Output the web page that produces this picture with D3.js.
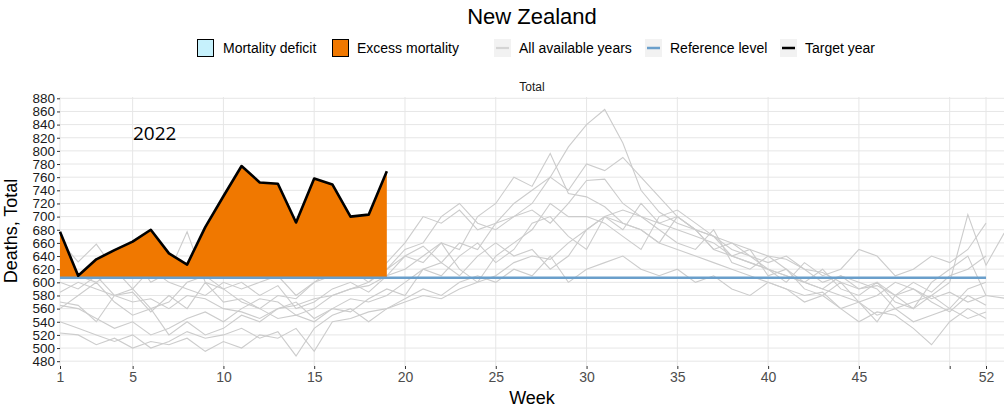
<!DOCTYPE html>
<html><head><meta charset="utf-8">
<script src="https://cdn.jsdelivr.net/npm/d3@7"></script>
<style>body{margin:0;background:#fff}svg{display:block;font-family:"Liberation Sans",Arial,sans-serif}</style>
</head><body><svg id="c" width="1004" height="413"></svg>
<script>
const title = "New Zealand";
const targetYear = "2022";
const referenceLevel = 607;
const targetValues = [677,610,635,649,662,680,644,627,684,731,777,752,750,691,758,749,700,703,769];
const yTicks = [480,500,520,540,560,580,600,620,640,660,680,700,720,740,760,780,800,820,840,860,880];
const xTicks = [1,5,10,15,20,25,30,35,40,45,50,52];
const xTickLabels = ["1","5","10","15","20","25","30","35","40","45","","52"];
const year1 = [585,600,590,580,570,575,560,580,575,560,555,545,560,565,575,580,590,595,610,640,655,630,660,650,690,700,720,760,806,840,863,812,740,707,690,680,670,660,650,640,635,620,615,600,590,600,580,590,575,585,570,580];
const year2 = [565,560,545,530,540,520,530,545,555,540,560,575,570,550,560,580,590,600,620,640,630,660,650,700,720,760,746,796,735,730,715,690,680,660,700,680,650,640,630,620,610,600,620,590,580,600,570,560,580,560,590,600];
const year3 = [663,631,658,620,640,600,615,677,600,590,570,560,580,575,600,620,610,630,620,650,660,700,720,690,680,700,710,690,720,755,757,720,700,690,680,670,660,640,630,620,610,600,590,610,590,595,580,600,585,610,620,640];
const year4 = [523,520,505,515,500,510,505,515,495,510,500,520,515,530,495,540,545,555,560,570,580,575,590,600,610,630,640,635,660,680,700,690,680,660,650,640,630,620,610,600,590,580,585,560,570,550,560,540,550,560,545,555];
const year5 = [560,580,600,570,550,560,520,540,520,530,550,540,560,570,545,560,575,570,580,600,620,610,640,660,630,650,690,700,670,650,700,680,720,690,700,680,650,660,640,630,640,620,600,610,600,590,560,570,580,600,703,626,675];
const year6 = [600,590,610,580,590,560,570,600,610,590,600,580,595,560,570,590,600,585,610,620,640,660,620,600,640,660,680,720,700,700,690,670,650,700,710,690,670,640,650,610,620,600,590,580,570,540,580,560,600,620,640,580,576];
const year7 = [540,530,520,510,520,500,510,525,515,520,530,515,525,488,530,550,560,540,560,575,590,580,600,610,600,620,610,640,600,620,630,640,620,610,620,600,610,590,580,600,590,570,580,560,540,555,550,530,505,540,560,545];
const year8 = [570,565,540,580,585,555,580,560,600,570,575,560,545,550,540,560,555,575,590,580,620,630,610,640,660,640,650,620,640,680,700,710,700,680,660,650,680,630,620,640,620,590,580,600,570,580,600,590,570,555,580,565];
const year9 = [630,610,600,620,590,620,600,590,580,600,590,600,610,580,600,610,620,600,630,660,700,690,710,680,690,720,740,760,740,780,770,790,760,730,700,680,670,650,640,620,600,630,610,620,650,640,610,620,640,630,650,690];
const otherYears = [year1,year2,year3,year4,year5,year6,year7,year8,year9];

const svg = d3.select("#c");
const x = d3.scaleLinear().domain([1,52]).range([60,986]);
const y = d3.scaleLinear().domain([480,880]).range([361.2,98.3]);
const panel = {left:60, right:1004, top:92, bottom:366};

svg.append("text").attr("x",532).attr("y",24).attr("text-anchor","middle").attr("font-size",22).attr("fill","#000").text(title);

// legend
const lg = svg.append("g").attr("font-size",14).attr("fill","#000");
lg.append("rect").attr("x",197.5).attr("y",39.5).attr("width",16).attr("height",17).attr("fill","#c6f1fc").attr("stroke","#000").attr("stroke-width",1);
lg.append("text").attr("x",223).attr("y",53).text("Mortality deficit");
lg.append("rect").attr("x",332.5).attr("y",39.5).attr("width",16).attr("height",17).attr("fill","#f07800").attr("stroke","#000").attr("stroke-width",1);
lg.append("text").attr("x",357).attr("y",53).text("Excess mortality");
const keys = [{x:494,c:"#d4d4d4",w:2.2,t:"All available years",tx:519},{x:645,c:"#6a9fcb",w:2.5,t:"Reference level",tx:670},{x:780,c:"#000",w:2.5,t:"Target year",tx:805}];
keys.forEach(k=>{
  lg.append("rect").attr("x",k.x).attr("y",39).attr("width",17).attr("height",18).attr("fill","#f2f2f2");
  lg.append("line").attr("x1",k.x+2).attr("x2",k.x+15).attr("y1",48).attr("y2",48).attr("stroke",k.c).attr("stroke-width",k.w);
  lg.append("text").attr("x",k.tx).attr("y",53).text(k.t);
});

svg.append("text").attr("x",532).attr("y",91).attr("text-anchor","middle").attr("font-size",12).attr("fill","#1a1a1a").text("Total");

// grid
const grid = svg.append("g").attr("stroke","#e6e6e6").attr("stroke-width",1);
yTicks.forEach(t=>grid.append("line").attr("x1",panel.left).attr("x2",panel.right).attr("y1",y(t)).attr("y2",y(t)));
xTicks.forEach(t=>grid.append("line").attr("x1",x(t)).attr("x2",x(t)).attr("y1",panel.top+5).attr("y2",panel.bottom));

// other years
const line = d3.line().x((d,i)=>x(i+1)).y(d=>y(d));
svg.append("g").selectAll("path").data(otherYears).join("path")
  .attr("d",line).attr("fill","none").attr("stroke","#cccccc").attr("stroke-width",1.1);

// excess / deficit areas
const excess = d3.area().x((d,i)=>x(i+1)).y0(y(referenceLevel)).y1(d=>y(Math.max(d,referenceLevel)));
const deficit = d3.area().x((d,i)=>x(i+1)).y0(y(referenceLevel)).y1(d=>y(Math.min(d,referenceLevel)));
svg.append("path").attr("d",deficit(targetValues)).attr("fill","#c6f1fc");
svg.append("path").attr("d",excess(targetValues)).attr("fill","#f07800");

// reference line
svg.append("line").attr("x1",x(1)).attr("x2",x(52)).attr("y1",y(referenceLevel)).attr("y2",y(referenceLevel))
  .attr("stroke","#6a9fcb").attr("stroke-width",2.6);

// target line
svg.append("path").attr("d",line(targetValues)).attr("fill","none").attr("stroke","#000").attr("stroke-width",2.6).attr("stroke-linejoin","round");

svg.append("text").attr("x",133).attr("y",140).attr("font-family","'Open Sans',sans-serif").attr("font-size",19).attr("fill","#000").text(targetYear);

// y axis
const ya = svg.append("g").attr("transform",`translate(${panel.left},0)`)
  .call(d3.axisLeft(y).tickValues(yTicks).tickSize(3).tickPadding(2).tickFormat(d3.format("d")));
ya.select(".domain").remove();
ya.selectAll("line").attr("stroke","#333");
ya.selectAll("text").attr("font-size",13.5).attr("fill","#1a1a1a").attr("font-family","'Liberation Sans',Arial,sans-serif");

// x axis
const xa = svg.append("g").attr("transform",`translate(0,${panel.bottom})`)
  .call(d3.axisBottom(x).tickValues(xTicks).tickSize(3).tickPadding(3).tickFormat((d,i)=>xTickLabels[i]));
xa.select(".domain").remove();
xa.selectAll("line").attr("stroke","#333");
xa.selectAll("text").attr("font-size",14).attr("fill","#4d4d4d").attr("font-family","'Liberation Sans',Arial,sans-serif");

svg.append("text").attr("x",532).attr("y",404).attr("text-anchor","middle").attr("font-size",18).attr("fill","#000").text("Week");
svg.append("text").attr("transform","translate(17,231) rotate(-90)").attr("text-anchor","middle").attr("font-size",18).attr("fill","#000").text("Deaths, Total");
</script></body></html>
